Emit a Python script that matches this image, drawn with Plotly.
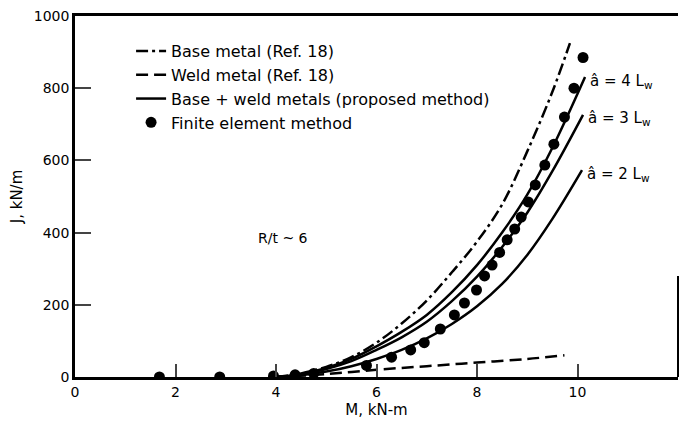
import plotly.graph_objects as go

# ---- data ----
M_base = [4.0, 4.5, 5.0, 5.5, 6.0, 6.5, 7.0, 7.5, 8.0, 8.5, 9.0, 9.5, 9.85]
J_base = [0, 10, 28, 55, 95, 148, 212, 290, 375, 478, 625, 790, 925]

M_weld = [4.0, 5.0, 6.0, 7.0, 8.0, 9.0, 9.74]
J_weld = [0, 8, 20, 30, 40, 50, 60]

M_a4 = [4.0, 4.5, 5.0, 5.5, 6.0, 6.5, 7.0, 7.5, 8.0, 8.5, 9.0, 9.5, 10.15]
J_a4 = [0, 8, 25, 50, 85, 125, 172, 235, 310, 400, 505, 635, 831]

M_a3 = [4.0, 4.5, 5.0, 5.5, 6.0, 6.5, 7.0, 7.5, 8.0, 8.5, 9.0, 9.5, 10.11]
J_a3 = [0, 7, 22, 44, 75, 110, 153, 210, 278, 360, 455, 570, 726]

M_a2 = [4.0, 4.5, 5.0, 5.5, 6.0, 6.5, 7.0, 7.5, 8.0, 8.5, 9.0, 9.5, 10.09]
J_a2 = [0, 5, 15, 30, 50, 75, 107, 147, 196, 258, 338, 438, 573]

M_fe = [1.68, 2.88, 3.95, 4.38, 4.75, 5.8, 6.3, 6.68, 6.95, 7.27, 7.55, 7.75, 7.99,
        8.15, 8.3, 8.45, 8.6, 8.75, 8.88, 9.02, 9.16, 9.35, 9.53, 9.74, 9.93, 10.11]
J_fe = [0, 0, 3, 6, 10, 32, 55, 75, 95, 133, 172, 205, 241,
        280, 310, 345, 380, 410, 443, 485, 532, 587, 645, 720, 800, 885]

x_ticks = [0, 2, 4, 6, 8, 10, 12]
y_ticks = [0, 200, 400, 600, 800, 1000]

curve_labels = ["â = 4 L<sub>w</sub>", "â = 3 L<sub>w</sub>", "â = 2 L<sub>w</sub>"]

FONT = "DejaVu Sans"
LW = 2.5

fig = go.Figure()
fig.add_trace(go.Scatter(x=M_base, y=J_base, mode="lines", line_shape="spline",
                         line=dict(color="black", width=LW, dash="12px,4px,3px,4px"),
                         name="Base metal (Ref. 18)", legendgroup="g1"))
fig.add_trace(go.Scatter(x=M_weld, y=J_weld, mode="lines", line_shape="spline",
                         line=dict(color="black", width=LW, dash="12px,6px"),
                         name="Weld metal (Ref. 18)", legendgroup="g2"))
fig.add_trace(go.Scatter(x=M_a4, y=J_a4, mode="lines", line_shape="spline",
                         line=dict(color="black", width=LW),
                         name="Base + weld metals (proposed method)", legendgroup="g3"))
fig.add_trace(go.Scatter(x=M_a3, y=J_a3, mode="lines", line_shape="spline",
                         line=dict(color="black", width=LW), showlegend=False, legendgroup="g3"))
fig.add_trace(go.Scatter(x=M_a2, y=J_a2, mode="lines", line_shape="spline",
                         line=dict(color="black", width=LW), showlegend=False, legendgroup="g3"))
fig.add_trace(go.Scatter(x=M_fe, y=J_fe, mode="markers",
                         marker=dict(color="black", size=11),
                         name="Finite element method", legendgroup="g4"))

for lab, xs, ys in zip(curve_labels, [M_a4, M_a3, M_a2], [J_a4, J_a3, J_a2]):
    fig.add_annotation(x=xs[-1], y=ys[-1], text=lab, showarrow=False,
                       xanchor="left", yanchor="middle", xshift=3, yshift=-4,
                       font=dict(family=FONT, size=15, color="black"))

fig.add_annotation(x=4.13, y=385, text="R/t ~ 6", showarrow=False,
                   font=dict(family=FONT, size=14, color="black"))

fig.add_shape(type="line", xref="paper", yref="paper", x0=1, x1=1, y0=0, y1=0.28,
              line=dict(color="black", width=2))

fig.update_layout(
    width=681, height=430,
    margin=dict(l=75, r=3, t=16, b=53),
    paper_bgcolor="white", plot_bgcolor="white",
    font=dict(family=FONT, size=14, color="black"),
    showlegend=True,
    legend=dict(x=0.093, y=0.95, xanchor="left", yanchor="top",
                bgcolor="rgba(0,0,0,0)", tracegroupgap=0,
                font=dict(family=FONT, size=16, color="black")),
    xaxis=dict(range=[0, 12], tickvals=x_ticks, ticks="inside", ticklen=13, tickwidth=1.5,
               showline=True, linecolor="black", linewidth=2.5, mirror=True,
               showgrid=False, zeroline=False, tickfont=dict(size=14),
               title=dict(text="M, kN-m", font=dict(family=FONT, size=15), standoff=6)),
    yaxis=dict(range=[0, 1000], tickvals=y_ticks, ticks="inside", ticklen=16, tickwidth=2,
               showline=True, linecolor="black", linewidth=2.5,
               showgrid=False, zeroline=False, tickfont=dict(size=14),
               title=dict(text="J, kN/m", font=dict(family=FONT, size=15), standoff=8)),
)

fig.write_html("out.html")
